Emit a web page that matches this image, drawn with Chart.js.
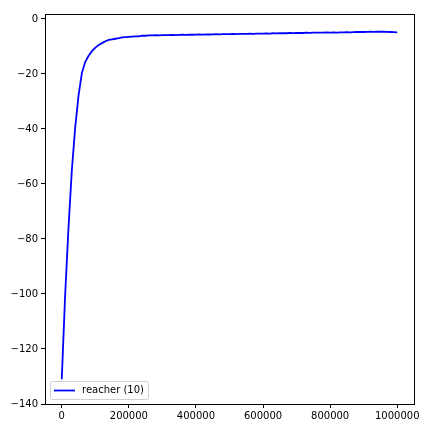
<!DOCTYPE html>
<html>
<head>
<meta charset="utf-8">
<script src="https://cdn.jsdelivr.net/npm/chart.js@4/dist/chart.umd.min.js"></script>
<style>
  html, body { margin:0; padding:0; background:#fff; }
  #wrap { width:432px; height:432px; position:relative; }
</style>
</head>
<body>
<div id="wrap"><canvas id="rewardChart" width="432" height="432"></canvas></div>
<script>
// ---- data ----
const seriesLabel = 'reacher (10)';
const steps = [
  0, 10000, 20000, 30000, 40000, 50000, 60000, 70000, 80000, 90000,
  100000, 110000, 120000, 130000, 140000, 150000, 160000, 170000, 180000, 190000,
  200000, 210000, 220000, 230000, 240000, 250000, 260000, 270000, 280000, 290000,
  300000, 310000, 320000, 330000, 340000, 350000, 360000, 370000, 380000, 390000,
  400000, 410000, 420000, 430000, 440000, 450000, 460000, 470000, 480000, 490000,
  500000, 510000, 520000, 530000, 540000, 550000, 560000, 570000, 580000, 590000,
  600000, 610000, 620000, 630000, 640000, 650000, 660000, 670000, 680000, 690000,
  700000, 710000, 720000, 730000, 740000, 750000, 760000, 770000, 780000, 790000,
  800000, 810000, 820000, 830000, 840000, 850000, 860000, 870000, 880000, 890000,
  900000, 910000, 920000, 930000, 940000, 950000, 960000, 970000, 980000, 990000,
  1000000
];
const rewards = [
  -131.0, -100.5, -76.0, -55.0, -39.5, -27.8, -19.6, -15.6, -13.4, -11.7,
  -10.4, -9.5, -8.8, -8.1, -7.6, -7.4, -7.2, -7.0, -6.7, -6.6,
  -6.5, -6.4, -6.3, -6.3, -6.1, -6.1, -6.0, -6.0, -5.9, -6.0,
  -5.9, -5.85, -5.9, -5.8, -5.85, -5.8, -5.75, -5.8, -5.7, -5.75,
  -5.7, -5.65, -5.7, -5.6, -5.65, -5.6, -5.55, -5.6, -5.5, -5.55,
  -5.5, -5.45, -5.5, -5.4, -5.45, -5.4, -5.35, -5.4, -5.3, -5.35,
  -5.3, -5.25, -5.3, -5.2, -5.25, -5.2, -5.15, -5.2, -5.1, -5.15,
  -5.1, -5.05, -5.1, -5.0, -5.05, -5.0, -5.0, -4.95, -5.0, -4.9,
  -4.95, -4.9, -4.95, -4.85, -4.9, -4.8, -4.85, -4.8, -4.75, -4.7,
  -4.75, -4.7, -4.65, -4.7, -4.6, -4.65, -4.6, -4.7, -4.75, -4.8,
  -4.85
];
const xTicks = [0, 200000, 400000, 600000, 800000, 1000000];
const yTicks = [0, -20, -40, -60, -80, -100, -120, -140];

const FONT = { family: 'DejaVu Sans', size: 10 };
const fmt = v => v < 0 ? '\u2212' + Math.abs(v) : String(v);

// frame around the plot + legend box in lower left (matplotlib look)
const framePlugin = {
  id: 'frame',
  afterDraw(chart) {
    const { ctx, chartArea: a } = chart;
    ctx.save();
    ctx.strokeStyle = '#000';
    ctx.lineWidth = 1;
    ctx.strokeRect(Math.round(a.left) + 0.5, Math.round(a.top) + 0.5,
      Math.round(a.right - a.left), Math.round(a.bottom - a.top));

    // legend
    const lx = a.left + 5, ly = a.bottom - 23, lw = 98, lh = 18;
    ctx.beginPath();
    ctx.roundRect(lx + 0.5, ly + 0.5, lw, lh, 2);
    ctx.fillStyle = 'rgba(255,255,255,0.8)';
    ctx.fill();
    ctx.strokeStyle = '#d0d0d0';
    ctx.stroke();
    const cy = ly + lh / 2 + 0.5;
    ctx.beginPath();
    ctx.moveTo(lx + 4, cy); ctx.lineTo(lx + 25, cy);
    ctx.strokeStyle = '#0000ff';
    ctx.lineWidth = 1.8;
    ctx.stroke();
    ctx.fillStyle = '#000';
    ctx.font = '10px "DejaVu Sans"';
    ctx.textBaseline = 'middle';
    ctx.fillText(seriesLabel, lx + 32, cy);
    ctx.restore();
  }
};

const ctx = document.getElementById('rewardChart').getContext('2d');
new Chart(ctx, {
  type: 'line',
  data: {
    datasets: [{
      label: seriesLabel,
      data: steps.map((s, i) => ({ x: s, y: rewards[i] })),
      borderColor: '#0000ff', borderWidth: 1.8,
      pointRadius: 0, tension: 0, fill: false,
    }]
  },
  options: {
    responsive: false, animation: false,
    layout: { padding: { left: 0, top: 14, right: 18, bottom: 0 } },
    plugins: { legend: { display: false }, tooltip: { enabled: false } },
    scales: {
      x: {
        type: 'linear', min: -50000, max: 1050000,
        afterBuildTicks: s => { s.ticks = xTicks.map(v => ({ value: v })); },
        afterFit: s => { s.height = 28; },
        grid: { drawOnChartArea: false, tickLength: 4, color: '#000' },
        border: { display: false },
        ticks: { color: '#000', font: FONT, padding: 2, maxRotation: 0, autoSkip: false, callback: fmt },
      },
      y: {
        type: 'linear', min: -140, max: 1.8,
        afterBuildTicks: s => { s.ticks = yTicks.map(v => ({ value: v })); },
        afterFit: s => { s.width = 45; },
        grid: { drawOnChartArea: false, tickLength: 4, color: '#000' },
        border: { display: false },
        ticks: { color: '#000', font: FONT, padding: 3, autoSkip: false, callback: fmt },
      }
    }
  },
  plugins: [framePlugin]
});
</script>
</body>
</html>
